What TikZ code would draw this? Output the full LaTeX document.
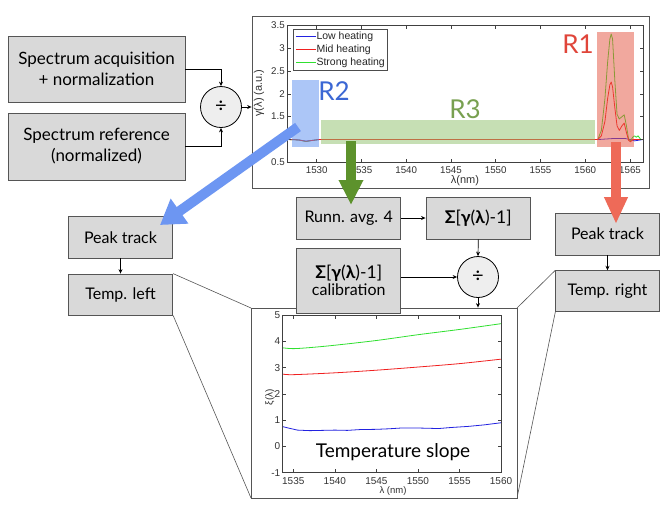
\documentclass[tikz,border=0pt]{standalone}
\usepackage{fontspec}
\setmainfont{Lato}
\newfontfamily\plotfont{Liberation Sans}
\usetikzlibrary{arrows.meta}
\definecolor{boxfill}{HTML}{D9D9D9}
\definecolor{boxline}{HTML}{555555}
\definecolor{divfill}{HTML}{EEEEEE}
\definecolor{mblue}{HTML}{2222E0}
\definecolor{mred}{HTML}{F02020}
\definecolor{mgreen}{HTML}{30E030}
\definecolor{bigblue}{HTML}{6D96F2}
\definecolor{biggreen}{HTML}{5D922C}
\definecolor{bigred}{HTML}{EE6A58}
\definecolor{rblue}{HTML}{5B8EF0}
\definecolor{rgreen}{HTML}{8EC06A}
\definecolor{rred}{HTML}{E5533F}
\definecolor{tblue}{HTML}{3B67D4}
\definecolor{tgreen}{HTML}{78A050}
\definecolor{tred}{HTML}{E0453A}
\begin{document}
\begin{tikzpicture}[x=1pt,y=-1pt,
  box/.style={draw=boxline, fill=boxfill, line width=0.8pt, inner sep=0pt, align=center, font=\fontsize{16}{18}\selectfont},
  bigbox/.style={box, font=\fontsize{17}{21}\selectfont},
  divc/.style={circle, draw=black, fill=divfill, line width=0.8pt, minimum size=41pt, inner sep=0pt, font=\fontsize{20}{20}\selectfont},
  flow/.style={-{Stealth[length=4.5pt,width=4pt]}, line width=0.7pt, black},
  frame/.style={draw=boxline, fill=white, line width=0.8pt, inner sep=0pt},
  axis/.style={draw=black!75, line width=0.5pt},
  tick/.style={draw=black!75, line width=0.5pt},
  ticklab/.style={font=\plotfont\fontsize{9.75}{10}\selectfont, inner sep=0pt, text=black!80},
  leglab/.style={font=\plotfont\fontsize{10.5}{11}\selectfont, inner sep=0pt, text=black!85},
  axlab/.style={font=\plotfont\fontsize{11}{12}\selectfont, inner sep=0pt, text=black!80},
  zoomline/.style={draw=boxline, line width=0.6pt},
  curve/.style={line width=0.8pt, line join=round},
  regtext/.style={font=\fontsize{26}{26}\selectfont, inner sep=0pt},
  bigarrow/.style={line width=10pt}
]
\useasboundingbox (0,0) rectangle (667,507);

% ---------------- left input boxes ----------------
\node[bigbox, minimum width=177pt, minimum height=66pt] (sa) at (96.5,69) {Spectrum acquisition\\+ normalization};
\node[bigbox, minimum width=177pt, minimum height=67pt] (sr) at (96.5,146.5) {Spectrum reference\\(normalized)};
\node[divc] (div1) at (221,107) {÷};

% ---------------- top plot ----------------
\node[frame, minimum width=397pt, minimum height=172pt] (topframe) at (450.5,102) {};
\draw[flow] (sa.east) -| (div1.north);
\draw[flow] (sr.east) -| (div1.south);
\draw[flow] (div1.east) -- (div1.east -| topframe.west);

\begin{scope}
  \clip (287.5,25.3) rectangle (643,162.3);
  \begin{scope}[xshift=316.7pt, yshift=-139.5pt, x=8.952pt, y=45.67pt]
    \draw[curve, mblue] plot coordinates {(-3.3,0) (-2.6,0) (-2,-0.01) (-1.2,-0.035) (-0.5,-0.02) (0.3,0) (31.5,0) (33,0.02) (34.5,0.02) (35,0) (35.5,-0.03) (36.45,0)};
    \draw[curve, mgreen] plot coordinates {(-3.3,0) (-2,-0.01) (-1.2,-0.045) (-0.5,-0.02) (0.3,0) (31.4,0) (31.8,0.2) (32.2,0.9) (32.5,1.7) (32.75,2.2) (32.9,2.31) (33.05,2.2) (33.3,1.3) (33.55,0.55) (33.8,0.45) (34.1,0.5) (34.35,0.54) (34.6,0.3) (34.85,0.0) (35.05,-0.03) (35.3,0.05) (35.5,0.08) (35.7,0.05) (35.9,0.08) (36.2,0.0) (36.45,0.0)};
    \draw[curve, mred] plot coordinates {(-3.3,0) (-2,-0.01) (-1.2,-0.04) (-0.5,-0.02) (0.3,0) (31.4,0) (31.8,0.08) (32.2,0.4) (32.5,0.9) (32.75,1.2) (32.9,1.26) (33.05,1.15) (33.3,0.7) (33.55,0.3) (33.8,0.2) (34.1,0.3) (34.35,0.36) (34.6,0.15) (34.85,-0.02) (35.05,-0.05) (35.3,0) (36.45,0)};
  \end{scope}
\end{scope}
% regions
\fill[rblue, opacity=0.5] (291.7,80) rectangle (319.3,146.7);
\fill[rgreen, opacity=0.5] (321,120) rectangle (595,144);
\fill[rred, opacity=0.5] (596.7,32) rectangle (634,146.7);
\node[regtext, text=tblue] (r2) at (334,91) {R2};
\node[regtext, text=tgreen] (r3) at (465,109) {R3};
\node[regtext, text=tred] (r1) at (578,44) {R1};
% axes
\draw[axis] (287.5,25.3) rectangle (643,162.3);
\foreach \t [evaluate=\t as \px using 316.7+\t*44.76, evaluate=\t as \lab using int(1530+5*\t)] in {0,...,7} {
  \draw[tick] (\px,162.3) -- (\px,158.8);
  \draw[tick] (\px,25.3) -- (\px,28.8);
  \node[ticklab] at (\px,170) {\lab};
}
\foreach \k/\lab in {0/0.5,1/1,2/1.5,3/2,4/2.5,5/3,6/3.5} {
  \draw[tick] (287.5,162.3-\k*22.83) -- (291,162.3-\k*22.83);
  \draw[tick] (643,162.3-\k*22.83) -- (639.5,162.3-\k*22.83);
  \node[ticklab, anchor=east] at (285,162.3-\k*22.83) {\lab};
}
\node[axlab] (xl1) at (465,181) {λ(nm)};
\node[axlab, rotate=90] (yl1) at (259,93) {γ(λ) (a.u.)};
% legend
\node[draw=black!70, fill=white, line width=0.5pt, minimum width=94pt, minimum height=41pt, inner sep=0pt] (leg) at (340,49.5) {};
\foreach \c/\txt/\yy in {mblue/Low heating/36.5, mred/Mid heating/49.5, mgreen/Strong heating/62.5} {
  \draw[\c, line width=0.8pt] (296,\yy) -- (315.5,\yy);
  \node[leglab, anchor=west] at (316.3,\yy) {\txt};
}

% ---------------- left branch ----------------
\node[box, minimum width=104.4pt, minimum height=41.3pt] (pkl) at (120.5,237.3) {Peak track};
\node[box, minimum width=104.4pt, minimum height=41pt] (tl) at (120.5,294.5) {Temp. left};
\draw[flow] (pkl.south) -- (tl.north);

% ---------------- right branch ----------------
\node[box, minimum width=103.6pt, minimum height=42pt] (pkr) at (607.5,234) {Peak track};
\node[box, minimum width=103.6pt, minimum height=41pt] (tr) at (607.5,291.2) {Temp. right};
\draw[flow] (pkr.south) -- (tr.north);

% ---------------- bottom plot ----------------
\coordinate (bfnw) at (251,308);
\coordinate (bfsw) at (251,498);
\coordinate (bfne) at (517,308);
\coordinate (bfse) at (517,498);
\draw[zoomline] (tl.north east) -- (bfnw);
\draw[zoomline] (tl.south east) -- (bfsw);
\draw[zoomline] (tr.north west) -- (bfne);
\draw[zoomline] (tr.south west) -- (bfse);
\node[frame, minimum width=266pt, minimum height=190pt] (botframe) at (384,403) {};
\begin{scope}
  \clip (282.7,315) rectangle (501,472.7);
  \begin{scope}[xshift=293.3pt, yshift=-446.4pt, x=8.308pt, y=26.28pt]
    \draw[curve, mgreen] plot[smooth] coordinates {(-1.25,3.75) (0,3.72) (2,3.76) (5,3.85) (10,4.03) (15,4.25) (20,4.45) (25,4.67)};
    \draw[curve, mred] plot[smooth] coordinates {(-1.25,2.75) (0,2.73) (5,2.8) (10,2.9) (15,3.02) (20,3.15) (25,3.32)};
    \draw[curve, mblue] plot coordinates {(-1.25,0.75) (-0.6,0.7) (0.5,0.62) (2,0.6) (3.5,0.61) (5,0.62) (6.5,0.61) (8,0.64) (10,0.65) (11.5,0.67) (13,0.7) (15,0.7) (17.5,0.68) (19,0.72) (21,0.76) (23,0.82) (25,0.9)};
  \end{scope}
\end{scope}
\draw[axis] (282.7,315) rectangle (501,472.7);
\foreach \t [evaluate=\t as \px using 293.3+\t*41.54, evaluate=\t as \lab using int(1535+5*\t)] in {0,...,5} {
  \draw[tick] (\px,472.7) -- (\px,469.2);
  \draw[tick] (\px,315) -- (\px,318.5);
  \node[ticklab, font=\plotfont\fontsize{10}{10}\selectfont] at (\px,481) {\lab};
}
\foreach \k/\lab in {0/-1,1/0,2/1,3/2,4/3,5/4,6/5} {
  \draw[tick] (282.7,472.7-\k*26.28) -- (286.2,472.7-\k*26.28);
  \draw[tick] (501,472.7-\k*26.28) -- (497.5,472.7-\k*26.28);
  \node[ticklab, anchor=east, font=\plotfont\fontsize{10}{10}\selectfont] at (280.5,472.7-\k*26.28) {\lab};
}
\node[axlab, font=\plotfont\fontsize{9.5}{10}\selectfont] (xl2) at (393,491) {λ (nm)};
\node[axlab, rotate=90, font=\plotfont\fontsize{10}{10}\selectfont] (yl2) at (270,397) {ξ(λ)};
\node[font=\fontsize{19}{20}\selectfont, inner sep=0pt] (tslope) at (393,452) {Temperature slope};

% ---------------- middle chain ----------------
\node[box, minimum width=104pt, minimum height=42pt] (runn) at (348.7,218) {Runn. avg. 4};
\node[box, minimum width=104.7pt, minimum height=42pt, font=\fontsize{17.5}{20}\selectfont] (sig) at (478.3,218) {\textbf{Σ}[\textbf{γ}(\textbf{λ})-1]};
\node[box, minimum width=104pt, minimum height=65pt] (cal) at (348.7,280.5) {{\fontsize{17.5}{20}\selectfont\textbf{Σ}[\textbf{γ}(\textbf{λ})-1]}\\[-1pt]calibration};
\node[divc] (div2) at (478,277) {÷};
\draw[flow] (runn.east) -- (sig.west);
\draw[flow] (sig.south) -- (div2.north);
\draw[flow] (div2.west -| cal.east) -- (div2.west);
\draw[flow] (div2.south) -- (div2.south |- botframe.north);

% ---------------- big arrows ----------------
\coordinate (bstart) at (298,127);
\coordinate (btip) at (160,225);
\coordinate (gstart) at (351,141);
\coordinate (gtip) at (351,205);
\coordinate (rstart) at (616,142);
\coordinate (rtip) at (616,224);
\draw[bigarrow, bigblue, -{Triangle[length=24pt,width=29pt]}] (bstart) -- (btip);
\draw[bigarrow, biggreen, line width=10.5pt, -{Triangle[length=25pt,width=23pt]}] (gstart) -- (gtip);
\draw[bigarrow, bigred, line width=9.5pt, -{Triangle[length=27pt,width=22pt]}] (rstart) -- (rtip);
\end{tikzpicture}
\end{document}
